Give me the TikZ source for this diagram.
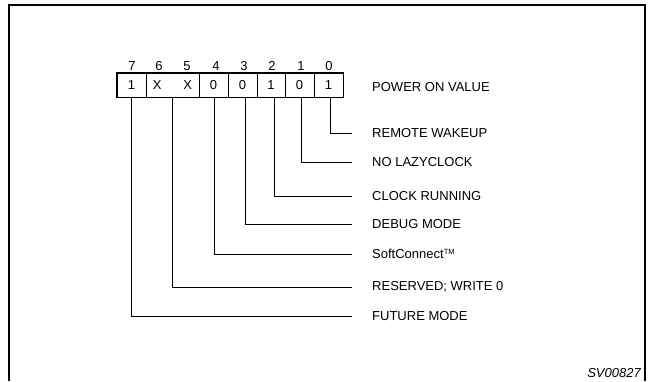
\documentclass[tikz,border=0pt]{standalone}
\usepackage{fontspec}
\setmainfont{Liberation Sans}
\usepackage{tikz}
\usetikzlibrary{positioning}

\tikzset{
  cell/.style={draw, line width=0.9pt, minimum height=24pt, inner sep=0pt, font=\fontsize{13}{15}\selectfont},
  bitno/.style={anchor=base, inner sep=0pt, font=\fontsize{13}{15}\selectfont},
  label/.style={anchor=west, inner sep=0pt, font=\fontsize{13}{15}\selectfont},
  leader/.style={line width=0.8pt}
}

\begin{document}
\begin{tikzpicture}[x=1pt, y=-1pt]
    \useasboundingbox (0,0) rectangle (652,381);
    % frame, open at the bottom
    \draw[line width=1.6pt] (9,381) -- (9,5) -- (645,5) -- (645,381);

    % register cells
    \node[cell, minimum width=29pt] (b7) at (131.5,85) {1};
    \node[cell, minimum width=53pt] (b65) at (172.5,85) {X\hskip 22pt X};
    \node[cell, minimum width=29pt] (b4) at (213.5,85) {0};
    \node[cell, minimum width=29pt] (b3) at (242.5,85) {0};
    \node[cell, minimum width=28pt] (b2) at (271,85) {1};
    \node[cell, minimum width=29pt] (b1) at (299.5,85) {0};
    \node[cell, minimum width=29pt] (b0) at (328.5,85) {1};
    \draw[line width=1.6pt] (b7.north west) rectangle (b0.south east);
    \draw[line width=1.6pt] (b7.north east) -- (b7.south east);

    % bit numbers
    \node[bitno] (n7) at (132,70) {7};
    \node[bitno] (n6) at (159,70) {6};
    \node[bitno] (n5) at (187,70) {5};
    \node[bitno] (n4) at (216,70) {4};
    \node[bitno] (n3) at (244,70) {3};
    \node[bitno] (n2) at (272,70) {2};
    \node[bitno] (n1) at (301,70) {1};
    \node[bitno] (n0) at (329,70) {0};

    % labels
    \node[label] (pov) at (372,87) {POWER ON VALUE};
    \node[label] (l0) at (372,133) {REMOTE WAKEUP};
    \node[label] (l1) at (372,162) {NO LAZYCLOCK};
    \node[label] (l2) at (372,196) {CLOCK RUNNING};
    \node[label] (l3) at (372,224) {DEBUG MODE};
    \node[label] (l4) at (372,254) {SoftConnect{\fontsize{7.5}{9}\selectfont\raisebox{0.5em}{TM}}};
    \node[label] (l5) at (372,287) {RESERVED; WRITE 0};
    \node[label] (l6) at (372,316) {FUTURE MODE};

    % leaders
    \draw[leader] ([xshift=2pt]b0.south) |- ([xshift=-20pt]l0.west);
    \draw[leader] ([xshift=2pt]b1.south) |- ([xshift=-20pt]l1.west);
    \draw[leader] ([xshift=3pt]b2.south) |- ([xshift=-20pt]l2.west);
    \draw[leader] ([xshift=3pt]b3.south) |- ([xshift=-20pt]l3.west);
    \draw[leader] ([xshift=1pt]b4.south) |- ([xshift=-20pt]l4.west);
    \draw[leader] (b65.south) |- ([xshift=-20pt]l5.west);
    \draw[leader] (b7.south) |- ([xshift=-20pt]l6.west);

    \node[anchor=south east, inner sep=0pt, font=\fontsize{13}{15}\selectfont\itshape] (sv) at (641,378) {SV00827};
\end{tikzpicture}
\end{document}
